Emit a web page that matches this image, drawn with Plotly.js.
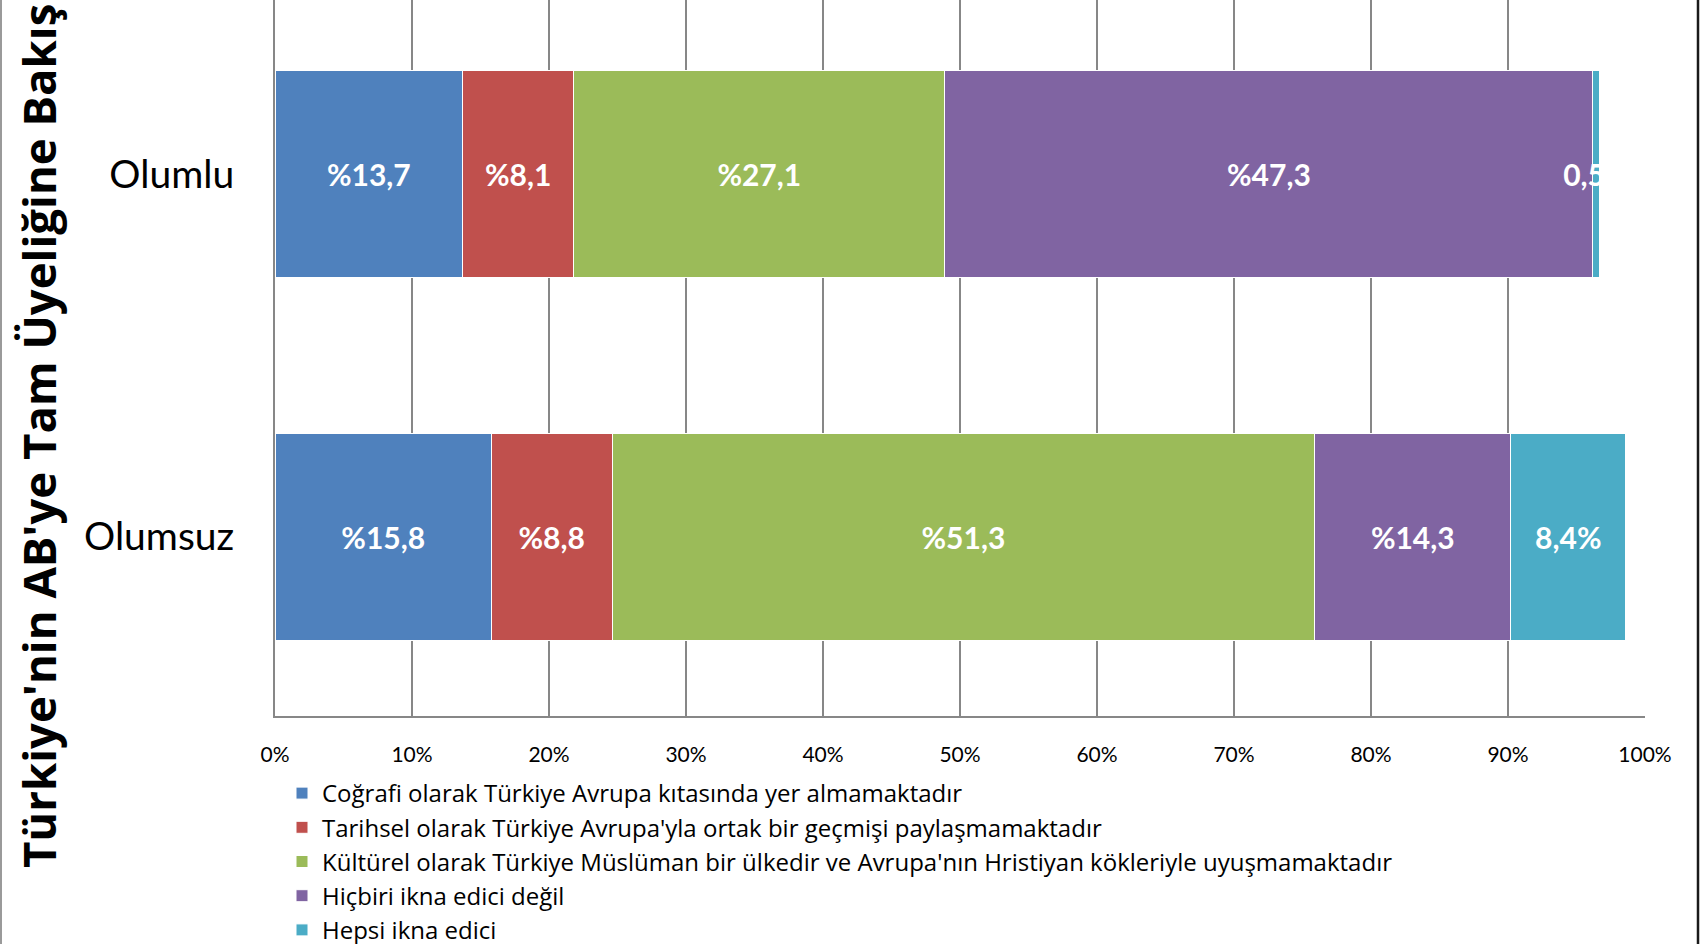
<!DOCTYPE html>
<html>
<head>
<meta charset="utf-8">
<script src="https://cdn.plot.ly/plotly-3.0.1.min.js"></script>
<style>html,body{margin:0;padding:0;background:#fff;}#chart{width:1708px;height:944px;}</style>
</head>
<body>
<div id="chart"></div>
<script>
// Categories (bottom to top)
const categories = ['Olumsuz', 'Olumlu'];

// Series names
const seriesNames = [
  'Coğrafi olarak Türkiye Avrupa kıtasında yer almamaktadır',
  "Tarihsel olarak Türkiye Avrupa'yla ortak bir geçmişi paylaşmamaktadır",
  "Kültürel olarak Türkiye Müslüman bir ülkedir ve Avrupa'nın Hristiyan kökleriyle uyuşmamaktadır",
  'Hiçbiri ikna edici değil',
  'Hepsi ikna edici'
];

// Values (%) for [Olumsuz, Olumlu]
const cografi  = [15.8, 13.7];
const tarihsel = [8.8, 8.1];
const kulturel = [51.3, 27.1];
const hicbiri  = [14.3, 47.3];
const hepsi    = [8.4, 0.5];

// Data labels as printed
const cografiLabels  = ['%15,8', '%13,7'];
const tarihselLabels = ['%8,8', '%8,1'];
const kulturelLabels = ['%51,3', '%27,1'];
const hicbiriLabels  = ['%14,3', '%47,3'];
const hepsiLabels    = ['8,4%', '0,5%'];

const xTickVals = [0, 10, 20, 30, 40, 50, 60, 70, 80, 90, 100];
const xTickText = ['0%', '10%', '20%', '30%', '40%', '50%', '60%', '70%', '80%', '90%', '100%'];

const colors = ['#4F81BD', '#C0504D', '#9BBB59', '#8064A2', '#4BACC6'];

const values = [cografi, tarihsel, kulturel, hicbiri, hepsi];
const labels = [cografiLabels, tarihselLabels, kulturelLabels, hicbiriLabels, hepsiLabels];

const traces = values.map((v, i) => ({
  type: 'bar',
  orientation: 'h',
  name: seriesNames[i],
  y: categories,
  x: v,
  text: labels[i],
  textposition: 'inside',
  insidetextanchor: 'middle',
  constraintext: 'none',
  textangle: 0,
  textfont: {family: 'Lato, "Open Sans", sans-serif', size: 30, color: '#ffffff', weight: 'bold'},
  marker: {color: colors[i], line: {color: '#ffffff', width: 1}},
  hoverinfo: 'x+name'
}));

const layout = {
  width: 1708,
  height: 944,
  margin: {l: 275, r: 63, t: 0, b: 228, pad: 0, autoexpand: false},
  paper_bgcolor: '#ffffff',
  plot_bgcolor: '#ffffff',
  barmode: 'stack',
  bargap: 0.43,
  showlegend: true,
  font: {family: 'Lato, "Open Sans", sans-serif', color: '#000000'},
  xaxis: {
    range: [0, 100],
    tickvals: xTickVals,
    ticktext: xTickText,
    tickangle: 0,
    showgrid: true,
    gridcolor: '#878787',
    gridwidth: 2,
    showline: true,
    linecolor: '#878787',
    linewidth: 2,
    zeroline: false,
    ticks: '',
    ticklabelstandoff: 19,
    tickfont: {family: 'Lato, sans-serif', size: 21, color: '#000000'},
    automargin: false,
    fixedrange: true
  },
  yaxis: {
    type: 'category',
    range: [-0.494, 1.48],
    showgrid: false,
    showline: true,
    linecolor: '#878787',
    linewidth: 2,
    zeroline: false,
    ticks: '',
    ticklabelstandoff: 31,
    tickfont: {family: 'Lato, sans-serif', size: 39, color: '#000000'},
    automargin: false,
    fixedrange: true
  },
  legend: {
    xref: 'container', yref: 'container',
    x: 282 / 1708, y: 1 - 771 / 944,
    xanchor: 'left', yanchor: 'top',
    traceorder: 'normal',
    font: {family: '"Open Sans", sans-serif', size: 24, color: '#000000'},
    bgcolor: 'rgba(0,0,0,0)',
    borderwidth: 0
  },
  annotations: [{
    text: "Türkiye'nin AB'ye Tam Üyeliğine Bakış",
    textangle: -90,
    xref: 'paper', yref: 'paper',
    x: (38 - 275) / 1370,
    y: (716 - 870) / 716,
    xanchor: 'center', yanchor: 'bottom',
    showarrow: false,
    font: {family: '"Open Sans", sans-serif', size: 45.5, color: '#000000', weight: 'bold'}
  }],
  shapes: [
    {type: 'line', xref: 'paper', yref: 'paper', x0: (1 - 275) / 1370, x1: (1 - 275) / 1370, y0: -228 / 716, y1: 1, line: {color: '#9a9a9a', width: 2}},
    {type: 'line', xref: 'paper', yref: 'paper', x0: (1698 - 275) / 1370, x1: (1698 - 275) / 1370, y0: -228 / 716, y1: 1, line: {color: '#1a1a1a', width: 2.5}}
  ]
};

Plotly.newPlot('chart', traces, layout, {displayModeBar: false, staticPlot: true});
</script>
</body>
</html>
